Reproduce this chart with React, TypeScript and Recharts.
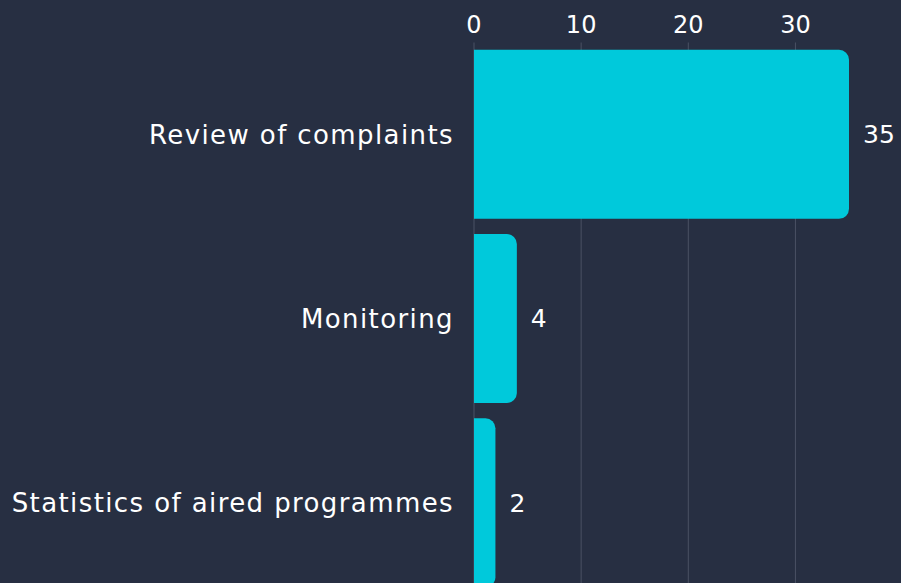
import { BarChart, Bar, XAxis, YAxis, CartesianGrid, LabelList } from "recharts";

const categories = ["Review of complaints", "Monitoring", "Statistics of aired programmes"];
const counts = [35, 4, 2];
const xTicks = [0, 10, 20, 30];

const data = categories.map((name, i) => ({ name, value: counts[i] }));

const FONT = "'DejaVu Sans', sans-serif";

export default function App() {
  return (
    <div style={{ position: "absolute", left: 0, top: 0, width: 901, height: 583, background: "#272F42", overflow: "hidden" }}>
      <BarChart
        width={901}
        height={595}
        data={data}
        layout="vertical"
        margin={{ top: 0, right: 52, bottom: 0, left: 0 }}
        barCategoryGap="4%"
      >
        {/* grid only at the labelled ticks, not at the domain end */}
        <CartesianGrid horizontal={false} stroke="#4A5264" strokeWidth={1} verticalValues={xTicks} />
        <XAxis
          type="number"
          orientation="top"
          domain={[0, 35]}
          ticks={xTicks}
          height={42.5}
          axisLine={false}
          tickLine={false}
          tickMargin={4}
          tick={{ fill: "#FFFFFF", fontSize: 24, fontFamily: FONT }}
        />
        <YAxis
          type="category"
          dataKey="name"
          width={474}
          axisLine={false}
          tickLine={false}
          tickMargin={14}
          tick={{ fill: "#FFFFFF", fontSize: 26, fontFamily: FONT, letterSpacing: 1.4 }}
        />
        <Bar dataKey="value" fill="#00C9DB" radius={[0, 10, 10, 0]} isAnimationActive={false}>
          <LabelList dataKey="value" position="right" offset={14} fill="#FFFFFF" fontSize={25} fontFamily={FONT} />
        </Bar>
      </BarChart>
    </div>
  );
}
